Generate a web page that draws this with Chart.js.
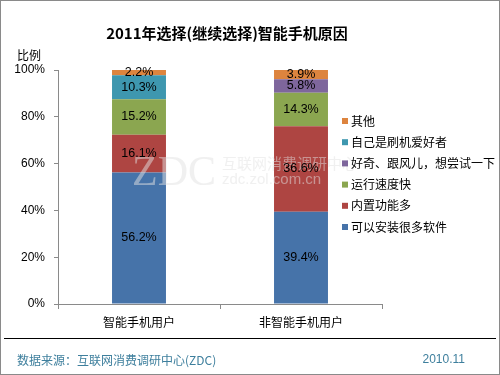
<!DOCTYPE html>
<html>
<head>
<meta charset="utf-8">
<script src="https://cdn.jsdelivr.net/npm/chart.js@4"></script>
<style>
html,body{margin:0;padding:0;background:#fff;}
#wrap{width:500px;height:375px;position:relative;}
</style>
</head>
<body>
<div id="wrap"><canvas id="c" width="500" height="375"></canvas></div>
<script>
const categories = ['智能手机用户', '非智能手机用户'];
const seriesNames = ['可以安装很多软件', '内置功能多', '运行速度快', '好奇、跟风儿，想尝试一下', '自己是刷机爱好者', '其他'];
const installApps = [56.2, 39.4];
const builtInFeatures = [16.1, 36.6];
const fastSpeed = [15.2, 14.3];
const curiosity = [0, 5.8];
const flashFan = [10.3, 0];
const others = [2.2, 3.9];
const yTicks = [0, 20, 40, 60, 80, 100];
const seriesColors = ['#4673A9', '#AE4542', '#8BA650', '#7E669C', '#3E97AF', '#DD843E'];
const titleText = '2011年选择(继续选择)智能手机原因';
const yAxisTitle = '比例';
const sourceText = '数据来源：互联网消费调研中心(ZDC)';
const dateText = '2010.11';

const seriesValues = [installApps, builtInFeatures, fastSpeed, curiosity, flashFan, others];
const datasets = seriesNames.map((n, i) => ({
  label: n,
  data: seriesValues[i],
  backgroundColor: seriesColors[i],
  borderWidth: 0,
  categoryPercentage: 1.0,
  barPercentage: 0.333
}));

const CJK = '"Noto Sans CJK SC", "Noto Sans", sans-serif';
const LAT = '"Liberation Sans", Arial, sans-serif';

const decor = {
  id: 'decor',
  afterDatasetsDraw(chart) {
    const ctx = chart.ctx;
    ctx.save();
    // watermark
    ctx.fillStyle = 'rgba(225,225,225,0.5)';
    ctx.font = '42px "Liberation Serif", serif';
    ctx.textAlign = 'left';
    ctx.textBaseline = 'alphabetic';
    ctx.fillText('ZDC', 132, 185);
    ctx.font = '15px ' + CJK;
    ctx.fillText('互联网消费调研中心', 222, 169);
    ctx.font = '15px ' + LAT;
    ctx.fillText('zdc.zol.com.cn', 222, 184);
    // value labels
    ctx.font = '12.5px ' + LAT;
    ctx.fillStyle = '#000';
    ctx.textAlign = 'center';
    ctx.textBaseline = 'middle';
    chart.data.datasets.forEach((ds, di) => {
      const meta = chart.getDatasetMeta(di);
      meta.data.forEach((bar, i) => {
        const v = ds.data[i];
        if (!v) return;
        const p = bar.getProps(['x', 'y', 'base'], true);
        ctx.fillText(v.toFixed(1) + '%', p.x, (p.y + p.base) / 2);
      });
    });
    ctx.restore();
  },
  afterDraw(chart) {
    const ctx = chart.ctx;
    ctx.save();
    // title
    ctx.fillStyle = '#000';
    ctx.font = 'bold 15px ' + CJK;
    ctx.textAlign = 'center';
    ctx.textBaseline = 'middle';
    ctx.fillText(titleText, 227, 33);
    // y axis title
    ctx.font = '12px ' + CJK;
    ctx.textAlign = 'left';
    ctx.fillText(yAxisTitle, 17, 55);
    // legend (reversed order)
    ctx.font = '12px ' + CJK;
    ctx.textBaseline = 'middle';
    const n = chart.data.datasets.length;
    for (let k = 0; k < n; k++) {
      const ds = chart.data.datasets[n - 1 - k];
      const y = 121 + k * 21.2;
      ctx.fillStyle = ds.backgroundColor;
      ctx.fillRect(342, y - 3, 6, 6);
      ctx.fillStyle = '#000';
      ctx.fillText(ds.label, 351, y);
    }
    // footer separator
    ctx.strokeStyle = '#000';
    ctx.lineWidth = 1;
    ctx.beginPath();
    ctx.moveTo(4, 338.5);
    ctx.lineTo(496, 338.5);
    ctx.stroke();
    // footer texts
    ctx.fillStyle = '#3E7F9D';
    ctx.font = '12px ' + CJK;
    ctx.textAlign = 'left';
    ctx.fillText(sourceText, 17, 360);
    ctx.font = '12px ' + LAT;
    ctx.textAlign = 'right';
    ctx.fillText(dateText, 465, 360);
    // outer border
    ctx.strokeStyle = '#8a8a8a';
    ctx.strokeRect(0.5, 0.5, 499, 374);
    ctx.restore();
  }
};

new Chart(document.getElementById('c'), {
  type: 'bar',
  data: { labels: categories, datasets },
  options: {
    responsive: false,
    animation: false,
    devicePixelRatio: 1,
    layout: { padding: { left: 0, top: 70, right: 118, bottom: 0 } },
    plugins: { legend: { display: false }, title: { display: false }, tooltip: { enabled: false } },
    scales: {
      x: {
        stacked: true,
        offset: true,
        afterFit(s) { s.height = 71; },
        grid: { display: true, offset: true, drawOnChartArea: false, drawTicks: true, tickLength: 5, color: '#8a8a8a' },
        border: { display: true, color: '#8a8a8a' },
        ticks: { color: '#000', font: { family: CJK, size: 12 }, padding: 6 }
      },
      y: {
        stacked: true,
        min: 0,
        max: 100,
        afterFit(s) { s.width = 58; },
        afterBuildTicks(s) { s.ticks = yTicks.map(v => ({ value: v })); },
        grid: { display: true, drawOnChartArea: false, drawTicks: true, tickLength: 4, color: '#8a8a8a' },
        border: { display: true, color: '#8a8a8a' },
        ticks: { color: '#000', font: { family: LAT, size: 12 }, padding: 9, callback: v => v + '%' }
      }
    }
  },
  plugins: [decor]
});
</script>
</body>
</html>
